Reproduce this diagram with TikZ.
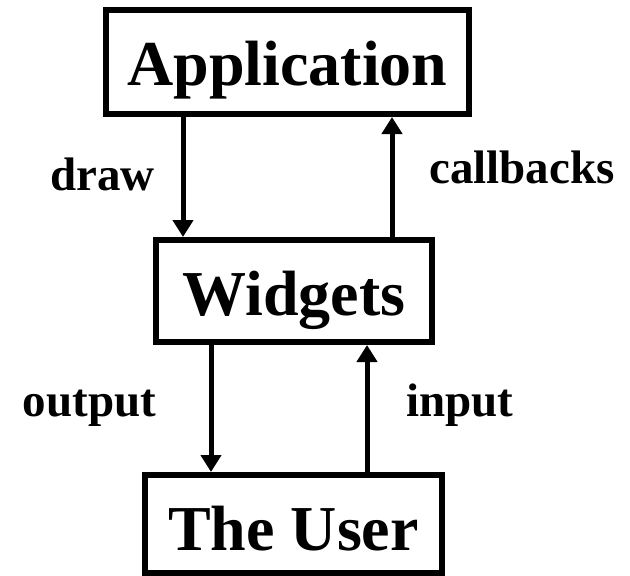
\documentclass[tikz,border=0pt]{standalone}
\usepackage{fontspec}
\setmainfont{Liberation Serif}
\usetikzlibrary{arrows.meta}
\tikzset{
  box/.style={draw, line width=6pt, inner sep=0pt, text depth=0pt, font=\fontsize{64}{64}\selectfont\bfseries},
  lbl/.style={anchor=base, inner sep=0pt, font=\fontsize{47}{47}\selectfont\bfseries},
  arr/.style={line width=5pt, -{Triangle[width=20pt,length=17pt]}}
}
\begin{document}
\begin{tikzpicture}[x=1pt,y=-1pt]
\useasboundingbox (0,0) rectangle (630,576);
\node[box, text height=46pt, minimum width=363pt, minimum height=104pt] (app) at (287.5,62) {Application};
\node[box, text height=48pt, minimum width=276pt, minimum height=102pt] (wid) at (294,291) {Widgets};
\node[box, text height=52pt, minimum width=297pt, minimum height=98pt] (usr) at (293.5,524) {The User};
\coordinate (xd) at (183,0);
\coordinate (xc) at (392,0);
\coordinate (xo) at (211,0);
\coordinate (xi) at (367,0);
\draw[arr] (app.south -| xd) -- (wid.north -| xd);
\draw[arr] (wid.north -| xc) -- (app.south -| xc);
\draw[arr] (wid.south -| xo) -- (usr.north -| xo);
\draw[arr] (usr.north -| xi) -- (wid.south -| xi);
\node[lbl] (ldraw) at (102.5,190) {draw};
\node[lbl] (lcb) at (522,183) {callbacks};
\node[lbl] (lout) at (89.5,416) {output};
\node[lbl] (lin) at (460,416) {input};
\end{tikzpicture}
\end{document}
